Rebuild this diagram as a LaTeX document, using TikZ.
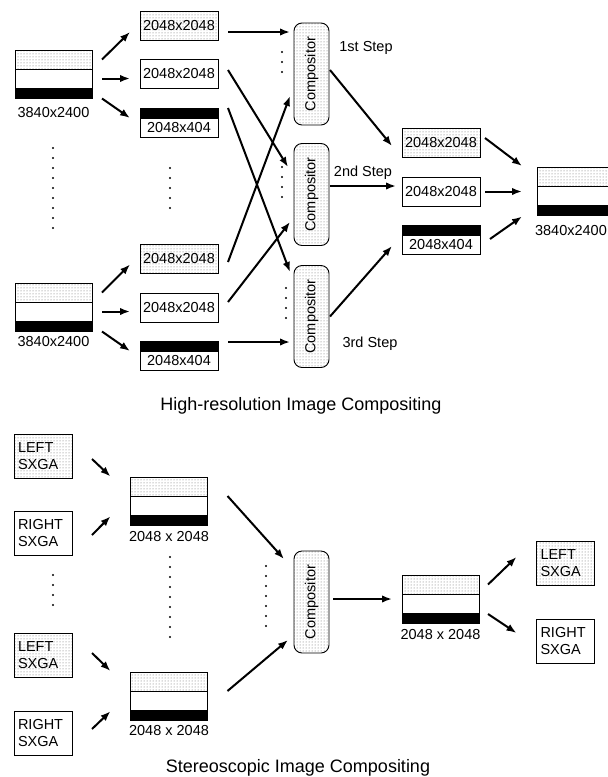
\documentclass[tikz,border=0pt]{standalone}
\usepackage{fontspec}
\setmainfont{Liberation Sans}
\usepackage{graphicx}
\usetikzlibrary{positioning,patterns,arrows.meta}
\begin{document}
\begin{tikzpicture}[x=1pt,y=-1pt,
  every node/.style={font=\fontsize{14.5}{17}\selectfont},
  frame/.style={draw,line width=0.9pt,inner sep=0pt,outer sep=0pt},
  dotfill/.style={pattern=dots,pattern color=black!60},
  dotband/.style={frame,dotfill,minimum width=77,minimum height=19},
  whiteband/.style={frame,minimum width=77,minimum height=19},
  blackband/.style={frame,fill=black,minimum width=77,minimum height=10.5},
  box/.style={frame,minimum width=78,minimum height=29},
  dotbox/.style={box,dotfill},
  halfbox/.style={frame,minimum width=78,minimum height=19},
  bar/.style={frame,fill=black,minimum width=78,minimum height=10},
  sxga/.style={frame,minimum width=58,minimum height=44,text width=50,align=left,inner xsep=4pt},
  comp/.style={frame,dotfill,rounded corners=8,minimum width=35,minimum height=102},
  lbl/.style={inner sep=0pt},
  title/.style={font=\fontsize{18}{20}\selectfont},
  arr/.style={-{Latex[length=10pt,width=7.5pt]},line width=2pt},
  dotline/.style={line width=2.2pt,line cap=round,dash pattern=on 0pt off 10pt}]
\useasboundingbox (0,0) rectangle (608,777);
% striped images
\foreach \n/\x/\y/\g/\dx/\t in {imgA/53.5/59.5/9/0/3840x2400, imgB/53.5/292.5/5/0/3840x2400,
    imgC/575.5/176.5/10/-4.5/3840x2400, imgS/169/486.5/6/0/2048 x 2048,
    imgT/169/681.5/4.5/0/2048 x 2048, imgU/440.5/584.5/5.5/0/2048 x 2048} {
  \node[dotband] (\n) at (\x,\y) {};
  \node[whiteband,below=0pt of \n] (\n-w) {};
  \node[blackband,below=0pt of \n-w] (\n-b) {};
  \node[lbl,below=\g pt of \n-b,xshift=\dx pt] (\n-l) {\t};
}
% high-resolution part
\node[dotbox] (b1) at (179,26) {2048x2048};
\node[box] (b2) at (179,74) {2048x2048};
\node[halfbox] (b3) at (179,127.5) {2048x404};
\node[bar,above=0pt of b3] (b3t) {};
\node[dotbox] (b4) at (179,258.5) {2048x2048};
\node[box] (b5) at (179,307.5) {2048x2048};
\node[halfbox] (b6) at (179,360.5) {2048x404};
\node[bar,above=0pt of b6] (b6t) {};
\node[comp] (comp1) at (311.5,74) {\rotatebox{90}{Compositor}};
\node[comp] (comp2) at (311.5,194.5) {\rotatebox{90}{Compositor}};
\node[comp] (comp3) at (311.5,316.5) {\rotatebox{90}{Compositor}};
\node[dotbox] (o1) at (441,142.5) {2048x2048};
\node[box] (o2) at (441,191.5) {2048x2048};
\node[halfbox] (o3) at (441,244.5) {2048x404};
\node[bar,above=0pt of o3] (o3t) {};
\node (st1) at (366,48) {1st Step};
\node (st2) at (363,173) {2nd Step};
\node (st3) at (370,344) {3rd Step};
\node[title] (hrtitle) at (301,406) {High-resolution Image Compositing};
\draw[arr] ([xshift=10]imgA.east) -- ([shift={(-10,6)}]b1.west);
\draw[arr] ([xshift=10]imgA-w.east) -- ([xshift=-10]imgA-w.east -| b2.west);
\draw[arr] ([xshift=10]imgA-b.south east) -- ([xshift=-10]b3.north west);
\draw[arr] ([xshift=10]imgB.east) -- ([shift={(-10,6)}]b4.west);
\draw[arr] ([xshift=10]imgB-w.east) -- ([xshift=-10]imgB-w.east -| b5.west);
\draw[arr] ([xshift=10]imgB-b.south east) -- ([xshift=-10]b6.north west);
\draw[arr] ([shift={(10,6)}]b1.east) -- ([shift={(-4,6)}]b1.east -| comp1.west);
\draw[arr] ([shift={(10,-4)}]b2.east) -- ([shift={(-6,23.5)}]comp2.north west);
\draw[arr] ([xshift=10]b3t.north east) -- ([shift={(-4,6.5)}]comp3.north west);
\draw[arr] ([shift={(10,3.5)}]b4.east) -- ([shift={(-4,-29)}]comp1.south west);
\draw[arr] ([shift={(10,-5.5)}]b5.east) -- ([shift={(-4,-23.5)}]comp2.south west);
\draw[arr] ([shift={(10,1)}]b6t.north east) -- ([shift={(-4,1)}]b6t.north east -| comp3.west);
\draw[arr] ([shift={(1,-4)}]comp1.east) -- ([shift={(-10,18)}]o1.north west);
\draw[arr] ([shift={(1,-8.5)}]comp2.east) -- ([shift={(-6,-8.5)}]comp2.east -| o2.west);
\draw[arr] ([xshift=1]comp3.east) -- ([shift={(-10,16)}]o3t.west);
\draw[arr] ([shift={(5,-4.5)}]o1.east) -- ([shift={(-15,-10.5)}]imgC.west);
\draw[arr] ([xshift=5]o2.east) -- ([xshift=-15]o2.east -| imgC-w.west);
\draw[arr] ([shift={(10,-5.5)}]o3.east) -- ([shift={(-15,1)}]imgC-b.south west);
\draw[dotline] (53,148) -- (53,238);
\draw[dotline] (170,168) -- (170,218);
\draw[dotline] (282,52) -- (282,82);
\draw[dotline] (282,167) -- (282,207);
\draw[dotline] (286,288) -- (286,318);
% stereoscopic part
\node[sxga,dotfill] (L1) at (43,456) {LEFT\\SXGA};
\node[sxga] (R1) at (43,533.5) {RIGHT\\SXGA};
\node[sxga,dotfill] (L2) at (43,655) {LEFT\\SXGA};
\node[sxga] (R2) at (43,733) {RIGHT\\SXGA};
\node[comp] (compS) at (311.5,602) {\rotatebox{90}{Compositor}};
\node[sxga,dotfill] (OL) at (565.5,563.5) {LEFT\\SXGA};
\node[sxga] (OR) at (565.5,641) {RIGHT\\SXGA};
\node[title] (sttitle) at (298,768) {Stereoscopic Image Compositing};
\draw[arr] ([shift={(20,3)}]L1.east) -- ([shift={(-20,-10)}]imgS.west);
\draw[arr] ([shift={(20,1.5)}]R1.east) -- ([shift={(-20,-4)}]imgS-b.west);
\draw[arr] ([shift={(20,-2)}]L2.east) -- ([shift={(-20,-10.5)}]imgT.west);
\draw[arr] ([shift={(20,-4)}]R2.east) -- ([shift={(-20,-4)}]imgT-b.west);
\draw[arr] ([xshift=20]imgS.south east) -- ([shift={(-10,8)}]compS.north west);
\draw[arr] ([xshift=20]imgT.south east) -- ([shift={(-6,-13)}]compS.south west);
\draw[arr] ([shift={(4,-3)}]compS.east) -- ([shift={(-10,-3)}]compS.east -| imgU-w.west);
\draw[arr] ([xshift=9]imgU.east) -- ([shift={(-20,-6.5)}]OL.west);
\draw[arr] ([shift={(9,1)}]imgU-b.north east) -- ([shift={(-20,-8)}]OR.west);
\draw[dotline] (53,575) -- (53,605);
\draw[dotline] (170,557) -- (170,643);
\draw[dotline] (266,566) -- (266,636);
\end{tikzpicture}
\end{document}
